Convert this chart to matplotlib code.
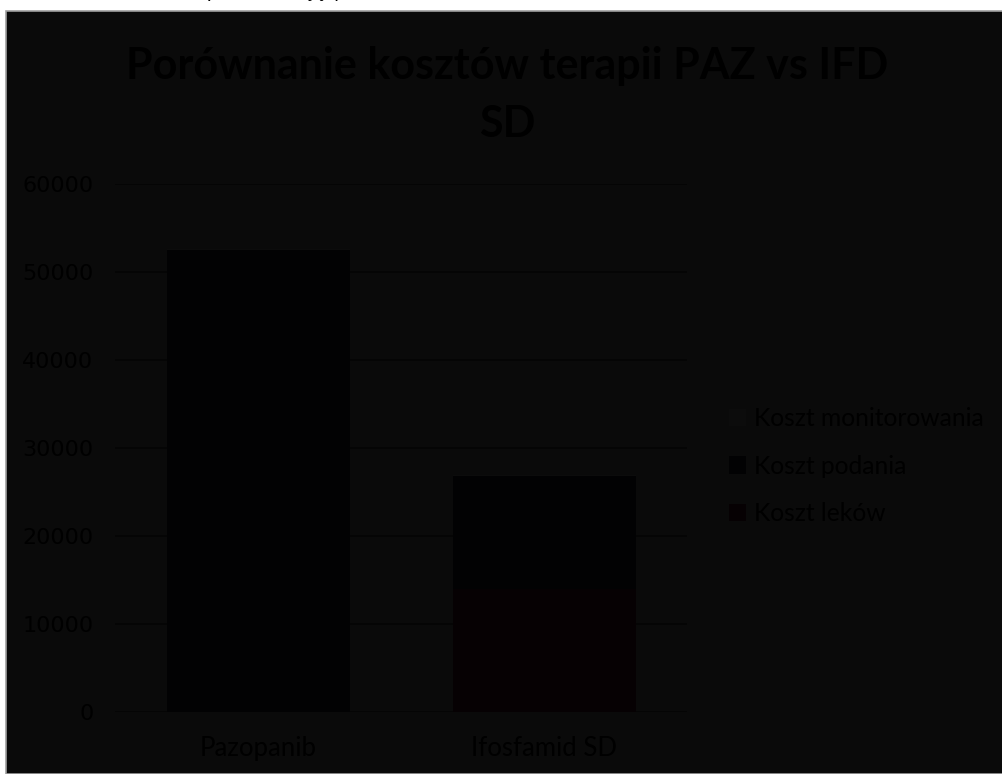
import matplotlib.pyplot as plt
from matplotlib.patches import Rectangle

categories = ['Pazopanib', 'Ifosfamid SD']
koszt_lekow = [0, 14000]
koszt_podania = [52500, 12800]
koszt_monitorowania = [150, 100]
yticks = [0, 10000, 20000, 30000, 40000, 50000, 60000]

bg = '#0a0a0a'
txt = '#000000'

fig = plt.figure(figsize=(10.03, 7.74), dpi=100)
fig.patch.set_facecolor('white')
# dark chart area, white strip at top and left
fig.patches.append(Rectangle((6/1003, 0), 1 - 6/1003, 1 - 11/774, transform=fig.transFigure,
                             facecolor=bg, edgecolor='#a0a0a0', linewidth=1.2, zorder=-5))
fig.text(207/1003, 1 + 2/774, 'przedstawiający', fontsize=14, family='Lato',
         color='black', ha='left', va='baseline')

ax = fig.add_axes([115.5/1003, 1 - 712/774, 572/1003, 528/774])
ax.set_facecolor('none')
ax.set_zorder(2)
x = [0, 1]
w = 0.64
b2 = [a + b for a, b in zip(koszt_lekow, koszt_podania)]
ax.bar(x, koszt_lekow, w, color='#060103', label='Koszt leków', zorder=2)
ax.bar(x, koszt_podania, w, bottom=koszt_lekow, color='#020203', label='Koszt podania', zorder=2)
ax.bar(x, koszt_monitorowania, w, bottom=b2, color='#0c0c0c', label='Koszt monitorowania', zorder=2)

ax.set_xlim(-0.5, 1.5)
ax.set_ylim(0, 60000)
ax.set_yticks(yticks)
ax.set_yticklabels([str(v) for v in yticks], fontsize=16, color=txt, family='DejaVu Sans')
ax.set_xticks(x)
ax.set_xticklabels(categories, fontsize=18.5, color=txt, family='Lato')
ax.tick_params(axis='both', length=0)
ax.tick_params(axis='y', pad=16)
ax.tick_params(axis='x', pad=17)
ax.yaxis.grid(True, color='#040404', linewidth=1.2, zorder=1)
ax.set_axisbelow(True)
for s in ax.spines.values():
    s.set_visible(False)
ax.axhline(0, color='#050505', linewidth=1.2, zorder=1)

fig.text(507/1003, 1 - 95/774, 'Porównanie kosztów terapii PAZ vs IFD\nSD', fontsize=31,
         fontweight='bold', family='Lato', color=txt, ha='center', va='center',
         linespacing=1.55)

h, l = ax.get_legend_handles_labels()
leg = fig.legend(h[::-1], l[::-1], loc='center left', bbox_to_anchor=(707/1003, 1 - 466/774),
                 frameon=False, handlelength=0.7, handleheight=0.7,
                 handletextpad=0.3, labelspacing=1.0, prop={'family': 'Lato', 'size': 17.7})
for t in leg.get_texts():
    t.set_color(txt)

plt.savefig('out.png', dpi=100, facecolor=fig.get_facecolor())
